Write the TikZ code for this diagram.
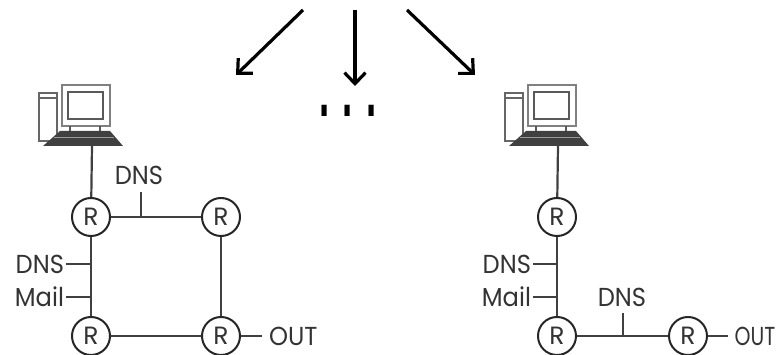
\documentclass[tikz,border=0pt]{standalone}
\usepackage{fontspec}
\setmainfont{Poppins}
\newfontfamily\dotsfont{Liberation Sans}
\usetikzlibrary{arrows.meta}
\tikzset{
    router/.style={circle,draw=black!85,line width=2pt,minimum size=38pt,inner sep=0pt,font=\fontsize{25}{25}\selectfont,text=black!80},
    lbl/.style={inner sep=2pt,font=\fontsize{26}{26}\selectfont,text=black!80,xscale=0.93,transform shape},
    link/.style={draw=black!75,line width=2.2pt},
    bigarrow/.style={black,line width=3.2pt,-{Straight Barb[length=11pt,width=21pt,line width=3.2pt]}}
}
\begin{document}
\begin{tikzpicture}[x=1pt,y=-1pt]
    \useasboundingbox (0,0) rectangle (776,355);

    % Panah atas
    \coordinate (topl) at (303,10);
    \coordinate (topm) at (355,10);
    \coordinate (topr) at (407,10);
    \coordinate (tipl) at (236,75);
    \coordinate (tipm) at (355,86);
    \coordinate (tipr) at (475,75);
    \draw[bigarrow] (topl) -- (tipl);
    \draw[bigarrow] (topm) -- (tipm);
    \draw[bigarrow] (topr) -- (tipr);
    \node[font=\dotsfont\bfseries\fontsize{42}{42}\selectfont,xscale=0.87,yscale=1.8,transform shape,inner sep=0pt] (dots) at (348,111) {. . .};

    % Komputer
    \foreach \dx in {0,466} {
        \begin{scope}[xshift=\dx pt]
            \draw[black!60,line width=1.6pt,fill=white] (39,93) rectangle (57,141);
            \draw[black!60,line width=1.6pt] (39,98) -- (57,98);
            \draw[black!50,line width=1.8pt,fill=white] (62,85) rectangle (110,126);
            \draw[black!65,line width=2pt,fill=white] (68,92) rectangle (103,119);
            \draw[black!65,line width=1.4pt] (70,126) -- (70,131) (100,126) -- (100,131);
            \fill[black!75] (60,131) -- (110,131) -- (123,146) -- (43,146) -- cycle;
            \draw[black!40,line width=0.7pt] (54,137) -- (114,137);
        \end{scope}
    }

    % Jaringan kiri
    \coordinate (pca) at (92,146);
    \node[router] (ra) at (91,217) {R};
    \node[router] (rb) at (221,217) {R};
    \node[router] (rc) at (91,336) {R};
    \node[router] (rd) at (221,336) {R};
    \draw[link] (pca) -- (ra);
    \draw[link] (ra) -- (rb);
    \draw[link] (ra) -- (rc);
    \draw[link] (rb) -- (rd);
    \draw[link] (rc) -- (rd);

    \coordinate (tapa) at (141,217);
    \coordinate (tapb) at (91,264);
    \coordinate (tapc) at (91,297);
    \coordinate (enda) at (141,192);
    \coordinate (outl) at (262,336);
    \node[lbl] (dnsa) at (139,175) {DNS};
    \node[lbl,anchor=east] (dnsb) at (66,264) {DNS};
    \node[lbl,anchor=east] (maila) at (66,297) {Mail};
    \node[lbl,anchor=west] (outa) at (267,336) {OUT};
    \draw[link] (enda) -- (tapa);
    \draw[link] (dnsb) -- (tapb);
    \draw[link] (maila) -- (tapc);
    \draw[link] (rd) -- (outl);

    % Jaringan kanan
    \coordinate (pcb) at (558,146);
    \node[router] (re) at (557,217) {R};
    \node[router] (rf) at (557,336) {R};
    \node[router] (rg) at (688,336) {R};
    \draw[link] (pcb) -- (re);
    \draw[link] (re) -- (rf);
    \draw[link] (rf) -- (rg);

    \coordinate (tapd) at (557,264);
    \coordinate (tape) at (557,297);
    \coordinate (tapf) at (623,336);
    \coordinate (endf) at (623,313);
    \coordinate (outr) at (728,336);
    \node[lbl,anchor=east] (dnsc) at (533,264) {DNS};
    \node[lbl,anchor=east] (mailb) at (533,297) {Mail};
    \node[lbl] (dnsd) at (622,297) {DNS};
    \node[lbl,anchor=west,xscale=0.84] (outb) at (733,336) {OUT};
    \draw[link] (dnsc) -- (tapd);
    \draw[link] (mailb) -- (tape);
    \draw[link] (endf) -- (tapf);
    \draw[link] (rg) -- (outr);
\end{tikzpicture}
\end{document}
